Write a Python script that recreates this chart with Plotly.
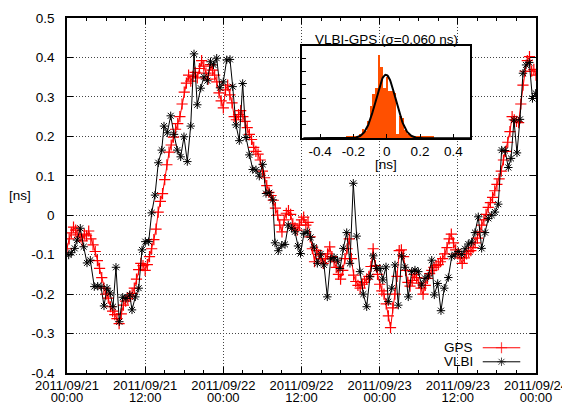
import numpy as np
import pandas as pd
import plotly.graph_objects as go

t0 = pd.Timestamp("2011-09-21 00:00")
gps_step_minutes = 20

gps_values = [
    -0.085, -0.060, -0.045, -0.030, -0.038, -0.050, -0.055, -0.065, -0.048, -0.052,
    -0.040, -0.060, -0.075, -0.092, -0.115, -0.135, -0.158, -0.185, -0.200, -0.210,
    -0.232, -0.243, -0.252, -0.262, -0.275, -0.250, -0.228, -0.218, -0.212, -0.205,
    -0.198, -0.185, -0.162, -0.138, -0.122, -0.128, -0.140, -0.125, -0.105, -0.085,
    -0.062, -0.035, 0.008, 0.035, 0.055, 0.090, 0.128, 0.160, 0.178, 0.198,
    0.218, 0.232, 0.250, 0.282, 0.312, 0.335, 0.355, 0.340, 0.352, 0.362,
    0.348, 0.372, 0.392, 0.378, 0.360, 0.345, 0.382, 0.368, 0.355, 0.338,
    0.310, 0.290, 0.272, 0.318, 0.330, 0.305, 0.285, 0.250, 0.242, 0.255,
    0.265, 0.250, 0.238, 0.222, 0.205, 0.192, 0.172, 0.162, 0.155, 0.140,
    0.112, 0.095, 0.075, 0.058, 0.050, 0.038, 0.018, 0.000, -0.025, -0.042,
    -0.012, 0.005, 0.012, 0.002, -0.022, -0.032, -0.038, -0.025, -0.012, -0.005,
    -0.025, -0.018, -0.055, -0.085, -0.118, -0.090, -0.100, -0.110, -0.122, -0.110,
    -0.098, -0.080, -0.105, -0.118, -0.132, -0.150, -0.162, -0.140, -0.110, -0.085,
    -0.060, -0.110, -0.152, -0.168, -0.178, -0.185, -0.175, -0.170, -0.162, -0.155,
    -0.130, -0.085, -0.128, -0.150, -0.175, -0.192, -0.200, -0.225, -0.255, -0.285,
    -0.235, -0.200, -0.155, -0.090, -0.088, -0.105, -0.140, -0.170, -0.180, -0.165,
    -0.150, -0.158, -0.172, -0.185, -0.200, -0.178, -0.160, -0.148, -0.140, -0.132,
    -0.128, -0.125, -0.118, -0.110, -0.098, -0.082, -0.060, -0.048, -0.070, -0.088,
    -0.098, -0.108, -0.122, -0.108, -0.098, -0.092, -0.090, -0.082, -0.070, -0.058,
    -0.042, -0.025, -0.012, 0.002, 0.020, 0.032, 0.045, 0.062, 0.078, 0.092,
    0.112, 0.140, 0.162, 0.185, 0.212, 0.250, 0.242, 0.238, 0.235, 0.282,
    0.330, 0.365, 0.392, 0.402, 0.365, 0.370, 0.355,
]

vlbi_hours = [
    0.26, 0.66, 1.18, 1.54, 2.04, 2.56, 3.07, 3.58, 4.19, 4.71,
    5.22, 5.68, 6.14, 6.60, 7.06, 7.52, 8.03, 8.55, 9.06, 9.63,
    9.98, 10.49, 11.01, 11.51, 12.02, 12.54, 13.00, 13.51, 14.02, 14.54,
    14.89, 15.40, 15.92, 16.43, 16.93, 17.45, 17.96, 18.47, 18.99, 19.50,
    20.00, 20.53, 21.03, 21.54, 22.03, 22.49, 22.98, 23.49, 23.99, 24.52,
    25.02, 25.44, 25.94, 26.45, 26.97, 27.48, 27.99, 28.51, 29.01, 29.52,
    30.04, 30.55, 31.06, 31.58, 31.93, 32.44, 32.96, 33.47, 33.97, 34.49,
    35.00, 35.46, 35.85, 36.38, 36.89, 37.41, 37.92, 38.43, 38.95, 39.45,
    39.96, 40.48, 40.99, 41.50, 41.91, 42.42, 42.94, 43.44, 43.95, 44.47,
    44.98, 45.49, 46.01, 46.51, 47.02, 47.54, 48.05, 48.47, 48.97, 49.32,
    49.85, 50.35, 50.86, 51.38, 51.89, 52.39, 52.92, 53.42, 53.93, 54.45,
    54.96, 55.47, 55.99, 56.39, 56.91, 57.41, 57.92, 58.54, 59.06, 59.56,
    60.07, 60.59, 61.10, 61.61, 62.12, 62.63, 63.14, 63.66, 64.17, 64.68,
    65.20, 65.70, 66.21, 66.73, 67.24, 67.75, 68.16, 68.62, 69.08, 69.54,
    70.00, 70.47, 70.97, 71.46, 71.95,
]
vlbi_values = [
    -0.101, -0.095, -0.084, -0.063, -0.033, -0.080, -0.121, -0.114, -0.181, -0.180,
    -0.181, -0.230, -0.185, -0.197, -0.232, -0.132, -0.270, -0.208, -0.211, -0.202,
    -0.240, -0.207, -0.185, -0.088, -0.067, -0.067, 0.006, 0.051, 0.133, 0.165,
    0.226, 0.209, 0.252, 0.205, 0.165, 0.148, 0.199, 0.136, 0.226, 0.409,
    0.280, 0.322, 0.351, 0.341, 0.389, 0.381, 0.398, 0.323, 0.338, 0.394,
    0.395, 0.326, 0.229, 0.189, 0.334, 0.197, 0.153, 0.116, 0.115, 0.099,
    0.129, 0.055, 0.057, 0.039, -0.070, -0.090, -0.076, -0.074, -0.025, -0.033,
    -0.042, -0.078, -0.097, -0.046, -0.042, -0.056, -0.081, -0.122, -0.098, -0.126,
    -0.207, -0.111, -0.107, -0.114, -0.135, -0.084, -0.044, -0.122, 0.081, -0.053,
    -0.143, -0.200, -0.232, -0.156, -0.103, -0.135, -0.135, -0.164, -0.131, -0.219,
    -0.185, -0.126, -0.228, -0.103, -0.132, -0.207, -0.143, -0.139, -0.143, -0.177,
    -0.160, -0.154, -0.114, -0.202, -0.173, -0.242, -0.185, -0.158, -0.105, -0.100,
    -0.092, -0.100, -0.085, -0.073, -0.068, -0.044, -0.004, -0.084, -0.044, -0.008,
    0.000, 0.008, 0.028, 0.165, 0.164, 0.121, 0.144, 0.241, 0.158, 0.243,
    0.360, 0.381, 0.387, 0.296, 0.309,
]

hist_centers = [
    -0.240, -0.224, -0.208, -0.192, -0.176, -0.160, -0.144, -0.128, -0.112, -0.096,
    -0.080, -0.064, -0.048, -0.032, -0.016, 0.000, 0.016, 0.032, 0.048, 0.064,
    0.080, 0.096, 0.112, 0.128, 0.144, 0.160, 0.176, 0.192, 0.208, 0.224,
    0.240, 0.256, 0.272,
]
hist_heights = [
    0.15, 0.15, 0.15, 0.15, 0.15, 0.3, 0.7, 0.55, 1.3, 2.4,
    3.3, 3.75, 6.2, 5.3, 3.75, 4.6, 3.5, 3.5, 3.4, 0.35,
    1.7, 1.5, 0.6, 0.3, 0.15, 0.15, 0.15, 0.15, 0.15, 0.15,
    0.15, 0.15, 0.15,
]
hist_bin_width = 0.016
fit_mean, fit_sigma, fit_amp = -0.005, 0.060, 4.75

y_tick_vals = [0.5, 0.4, 0.3, 0.2, 0.1, 0.0, -0.1, -0.2, -0.3, -0.4]
y_tick_text = ["0.5", "0.4", "0.3", "0.2", "0.1", "0", "-0.1", "-0.2", "-0.3", "-0.4"]
inset_tick_vals = [-0.4, -0.2, 0.0, 0.2, 0.4]
inset_tick_text = ["-0.4", "-0.2", "0", "0.2", "0.4"]
inset_x_range = [-0.51, 0.50]
inset_y_range = [0, 6.9]

gps_times = t0 + pd.to_timedelta(np.arange(len(gps_values)) * gps_step_minutes, unit="min")
vlbi_times = t0 + pd.to_timedelta(np.array(vlbi_hours), unit="h")
x_range = [t0, t0 + pd.Timedelta(hours=72)]

FONT = "Liberation Sans, Arial, Helvetica, sans-serif"
GPS_COLOR = "#ff0000"
HIST_COLOR = "#ff5000"

fig = go.Figure()
fig.add_trace(go.Scatter(
    x=gps_times, y=gps_values, mode="lines+markers", name="GPS",
    line=dict(color=GPS_COLOR, width=1),
    marker=dict(symbol="cross-thin", size=8, line=dict(color=GPS_COLOR, width=1.2)),
    showlegend=False, xaxis="x", yaxis="y",
))
fig.add_trace(go.Scatter(
    x=vlbi_times, y=vlbi_values, mode="lines+markers", name="VLBI",
    line=dict(color="black", width=1),
    marker=dict(symbol="asterisk", size=7, line=dict(color="black", width=1)),
    showlegend=False, xaxis="x", yaxis="y",
))

# white backdrop of the inset (drawn first among the bars, hides the main grid)
fig.add_trace(go.Bar(
    x=[sum(inset_x_range) / 2], y=[inset_y_range[1]],
    width=inset_x_range[1] - inset_x_range[0],
    marker=dict(color="white", line=dict(width=0)),
    showlegend=False, xaxis="x2", yaxis="y2", hoverinfo="skip",
))
# inset histogram
fig.add_trace(go.Bar(
    x=hist_centers, y=hist_heights, width=hist_bin_width,
    marker=dict(color=HIST_COLOR, line=dict(width=0)),
    showlegend=False, xaxis="x2", yaxis="y2",
))
gx = np.linspace(-0.5, 0.5, 301)
gy = fit_amp * np.exp(-0.5 * ((gx - fit_mean) / fit_sigma) ** 2)
fig.add_trace(go.Scatter(
    x=gx, y=gy, mode="lines", line=dict(color="black", width=2),
    showlegend=False, xaxis="x2", yaxis="y2",
))

# legend samples
fig.add_trace(go.Scatter(
    x=[0, 0.5, 1], y=[0.75, 0.75, 0.75], mode="lines+markers",
    line=dict(color=GPS_COLOR, width=1),
    marker=dict(symbol="cross-thin", size=[0, 8, 0], line=dict(color=GPS_COLOR, width=1.2)),
    showlegend=False, xaxis="x3", yaxis="y3", hoverinfo="skip",
))
fig.add_trace(go.Scatter(
    x=[0, 0.5, 1], y=[0.23, 0.23, 0.23], mode="lines+markers",
    line=dict(color="black", width=1),
    marker=dict(symbol="asterisk", size=[0, 7, 0], line=dict(color="black", width=1)),
    showlegend=False, xaxis="x3", yaxis="y3", hoverinfo="skip",
))
# invisible trace to activate the second (time-of-day) label axis
fig.add_trace(go.Scatter(
    x=x_range, y=[None, None], mode="lines", showlegend=False,
    xaxis="x4", yaxis="y", hoverinfo="skip",
))

# page body has an 8 px margin, so the figure is drawn 8 px smaller and offset
OFF = 8
W, H = 570 - OFF, 403 - OFF
Ls, Rs, Ts, Bs = 67, 536, 18, 373          # plot-area edges in window pixels
pw, ph = Rs - Ls, Bs - Ts

def px(xs):
    return (xs - Ls) / pw

def py(ys):
    return (Bs - ys) / ph

grid = dict(showgrid=True, gridcolor="#444444", griddash="1px,2px", gridwidth=1)
dtick_12h = 12 * 3600 * 1000

fig.update_layout(
    template="none",
    width=W, height=H,
    margin=dict(l=Ls - OFF, r=W - (Rs - OFF), t=Ts - OFF, b=H - (Bs - OFF), pad=0, autoexpand=False),
    paper_bgcolor="white", plot_bgcolor="white",
    font=dict(family=FONT, size=13.5, color="black"),
    bargap=0, barmode="overlay",
    xaxis=dict(
        type="date", domain=[0, 1], anchor="y", automargin=False,
        range=x_range, tick0=t0, dtick=dtick_12h,
        tickformat="%Y/%m/%d", tickfont=dict(size=13), ticklabeloverflow="allow",
        ticks="inside", ticklen=6, tickcolor="black", tickwidth=1,
        showline=True, linecolor="black", linewidth=1.5, mirror="ticks",
        minor=dict(dtick=3 * 3600 * 1000, ticks="inside", ticklen=3, tickcolor="black", showgrid=False),
        zeroline=False, ticklabelstandoff=0, **grid,
    ),
    xaxis4=dict(
        type="date", overlaying="x", anchor="y", side="bottom", automargin=False,
        range=x_range, tick0=t0, dtick=dtick_12h,
        tickformat="%H:%M", tickfont=dict(size=13), ticklabeloverflow="allow",
        ticks="", showline=False, showgrid=False, zeroline=False,
        ticklabelstandoff=15,
    ),
    yaxis=dict(
        domain=[0, 1], anchor="x", automargin=False,
        range=[-0.4, 0.5], tickmode="array", tickvals=y_tick_vals, ticktext=y_tick_text,
        tickfont=dict(size=13.5), ticklabeloverflow="allow",
        ticks="inside", ticklen=6, tickcolor="black", tickwidth=1,
        showline=True, linecolor="black", linewidth=1.5, mirror="ticks",
        ticklabelstandoff=8,
        zeroline=False, **grid,
    ),
    xaxis2=dict(
        domain=[px(301.7), px(470)], anchor="y2", automargin=False,
        range=inset_x_range, tickmode="array", tickvals=inset_tick_vals, ticktext=inset_tick_text,
        tickfont=dict(size=13.5),
        ticks="inside", ticklen=5, tickcolor="black",
        showline=True, linecolor="black", linewidth=1.5, mirror=True,
        showgrid=False, zeroline=False, ticklabelstandoff=0,
    ),
    yaxis2=dict(
        domain=[py(138.3), py(46)], anchor="x2", automargin=False,
        range=inset_y_range, tickmode="array", tickvals=[1, 2, 3, 4, 5, 6],
        showticklabels=False, ticks="inside", ticklen=5, tickcolor="black",
        showline=True, linecolor="black", linewidth=1.5, mirror=True,
        showgrid=False, zeroline=False,
    ),
    xaxis3=dict(domain=[px(482.5), px(520.5)], anchor="y3", range=[0, 1], visible=False),
    yaxis3=dict(domain=[py(368), py(341)], anchor="x3", range=[0, 1], visible=False),
    annotations=[
        dict(text="[ns]", x=px(20), y=py(195), xref="paper", yref="paper",
             showarrow=False, xanchor="center", yanchor="middle"),
        dict(text="VLBI-GPS (σ=0.060 ns)", x=px(386), y=py(39), xref="paper", yref="paper",
             showarrow=False, xanchor="center", yanchor="middle"),
        dict(text="[ns]", x=px(386), y=py(164), xref="paper", yref="paper",
             showarrow=False, xanchor="center", yanchor="middle"),
        dict(text="GPS", x=px(475), y=py(347.7), xref="paper", yref="paper",
             showarrow=False, xanchor="right", yanchor="middle"),
        dict(text="VLBI", x=px(475), y=py(361.7), xref="paper", yref="paper",
             showarrow=False, xanchor="right", yanchor="middle"),
    ],
)

fig.write_html("out.html")
